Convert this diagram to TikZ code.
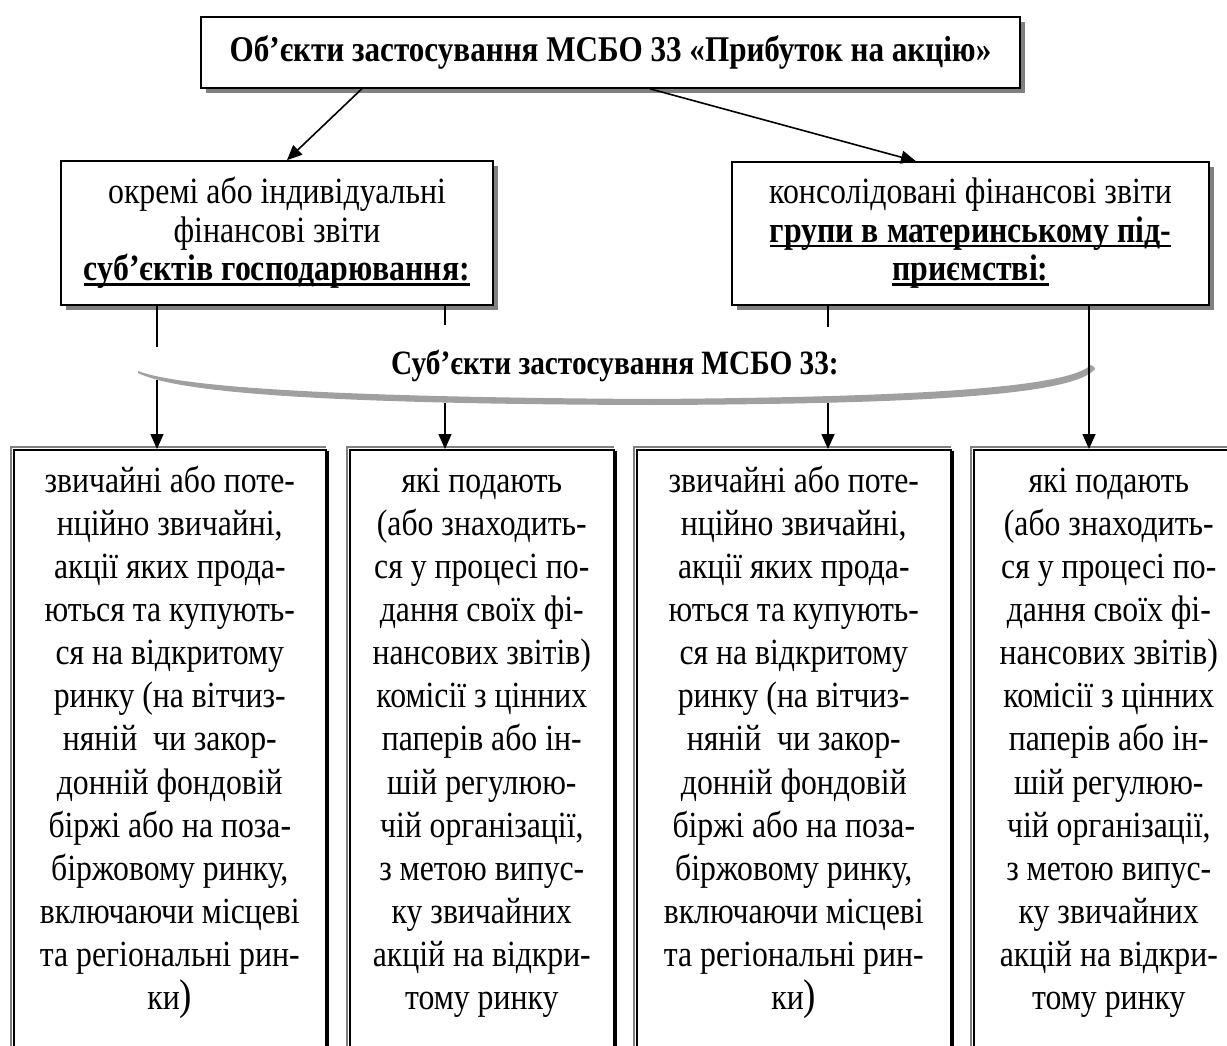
\documentclass[tikz,border=0pt]{standalone}
\usepackage{fontspec}
\setmainfont{Liberation Serif}[FakeStretch=0.86]
\usetikzlibrary{calc,arrows.meta,shadows}

\definecolor{shadowgray}{HTML}{808080}
\definecolor{bracegray}{HTML}{A0A0A0}

% thick underline for bold captions
\newcommand\ulb[1]{\setbox0\hbox{#1}\rlap{\rule[-5pt]{\wd0}{2.4pt}}\box0}

\begin{document}
\begin{tikzpicture}[x=1pt,y=-1pt,
  box/.style={draw, line width=1.6pt, fill=white, inner sep=0pt},
  shadowed/.style={drop shadow={shadow xshift=5pt, shadow yshift=-5pt, fill=shadowgray, opacity=1}},
  conn/.style={line width=1.6pt},
  arr/.style={conn, -{Triangle[length=15pt,width=13pt]}},
  midtext/.style={align=center, font=\fontsize{37}{38.5}\selectfont},
  btext/.style={align=center, inner sep=0pt, anchor=north, font=\fontsize{36.9}{43.1}\selectfont},
  bbox/.style={box, anchor=north west, minimum height=700pt}
]
\useasboundingbox (0,0) rectangle (1227,1046);
\clip (0,0) rectangle (1227,1046);

% top box
\node[box, shadowed, minimum width=819pt, minimum height=71pt,
      font=\fontsize{36.2}{40}\selectfont\bfseries] (top) at (610.5,52.5)
  {Об’єкти застосування МСБО 33 «Прибуток на акцію»};

% second level
\node[box, shadowed, midtext, minimum width=432pt, minimum height=144pt] (mid1) at (277,233)
  {окремі або індивідуальні\\фінансові звіти\\\textbf{\ulb{суб’єктів господарювання:}}};
\node[box, shadowed, midtext, minimum width=477pt, minimum height=143pt] (mid2) at (970.5,233.5)
  {консолідовані фінансові звіти\\\textbf{\ulb{групи в материнському під-}}\\\textbf{\ulb{приємстві:}}};

\coordinate (s1) at ($(top.south west)!0.197!(top.south east)$);
\coordinate (s2) at ($(top.south west)!0.548!(top.south east)$);
\draw[arr] (s1) -- ($(mid1.north west)!0.523!(mid1.north east)$);
\draw[arr] (s2) -- ($(mid2.north west)!0.386!(mid2.north east)$);

% bottom boxes
\foreach \n/\x/\w in {b1/13/312, b2/349/264, b3/636/314, b4/973/270} {
  \node[bbox, minimum width=\w pt] (\n) at (\x,449) {};
  \draw[shadowgray, line width=1.6pt]
    ([xshift=-1.8pt]\n.south west) -- ([xshift=-1.8pt,yshift=1.8pt]\n.north west)
    -- ([xshift=-0.5pt,yshift=1.8pt]\n.north east);
  \draw[black, line width=3pt]
    ([xshift=1.2pt,yshift=-1.5pt]\n.north east) -- ([xshift=1.2pt]\n.south east);
}

% brace with caption
\fill[bracegray] (138,371) .. controls (175,385) and (300,397) .. (650,399)
  .. controls (950,397) and (1070,385) .. (1091,365)
  .. controls (1094,366) and (1095,368) .. (1095,369)
  .. controls (1075,393) and (950,404) .. (650,405)
  .. controls (300,404) and (175,391) .. (138,373) -- cycle;
\node[font=\fontsize{34.1}{38}\selectfont\bfseries] (lbl) at (615,366) {Суб’єкти застосування МСБО 33:};

% vertical connectors
\coordinate (v1) at (157,0);
\coordinate (v2) at (445,0);
\coordinate (v3) at (828,0);
\coordinate (v4) at (1089,0);
\draw[conn] (v1 |- mid1.south) -- (157,347);
\draw[arr] (157,380) -- (v1 |- b1.north);
\draw[conn] (v2 |- mid1.south) -- (445,325);
\draw[arr] (445,403) -- (v2 |- b2.north);
\draw[conn] (v3 |- mid2.south) -- (828,327);
\draw[arr] (828,403) -- (v3 |- b3.north);
\draw[arr] (v4 |- mid2.south) -- (v4 |- b4.north);

% bottom texts
\node[btext] (t1) at ($(b1.north)+(0,13)$)
  {\strut звичайні або поте-\\нційно звичайні,\\акції яких прода-\\ються та купують-\\ся на відкритому\\ринку (на вітчиз-\\няній\ \ чи закор-\\донній фондовій\\біржі або на поза-\\біржовому ринку,\\включаючи місцеві\\та регіональні рин-\\ки{\fontsize{43}{43}\selectfont)}};
\node[btext] (t2) at ($(b2.north)+(0,13)$)
  {\strut які подають\\(або знаходить-\\ся у процесі по-\\дання своїх фі-\\нансових звітів)\\комісії з цінних\\паперів або ін-\\шій регулюю-\\чій організації,\\з метою випус-\\ку звичайних\\акцій на відкри-\\тому ринку};
\node[btext] (t3) at ($(b3.north)+(0,13)$)
  {\strut звичайні або поте-\\нційно звичайні,\\акції яких прода-\\ються та купують-\\ся на відкритому\\ринку (на вітчиз-\\няній\ \ чи закор-\\донній фондовій\\біржі або на поза-\\біржовому ринку,\\включаючи місцеві\\та регіональні рин-\\ки{\fontsize{43}{43}\selectfont)}};
\node[btext] (t4) at ($(b4.north)+(0,13)$)
  {\strut які подають\\(або знаходить-\\ся у процесі по-\\дання своїх фі-\\нансових звітів)\\комісії з цінних\\паперів або ін-\\шій регулюю-\\чій організації,\\з метою випус-\\ку звичайних\\акцій на відкри-\\тому ринку};
\end{tikzpicture}
\end{document}
